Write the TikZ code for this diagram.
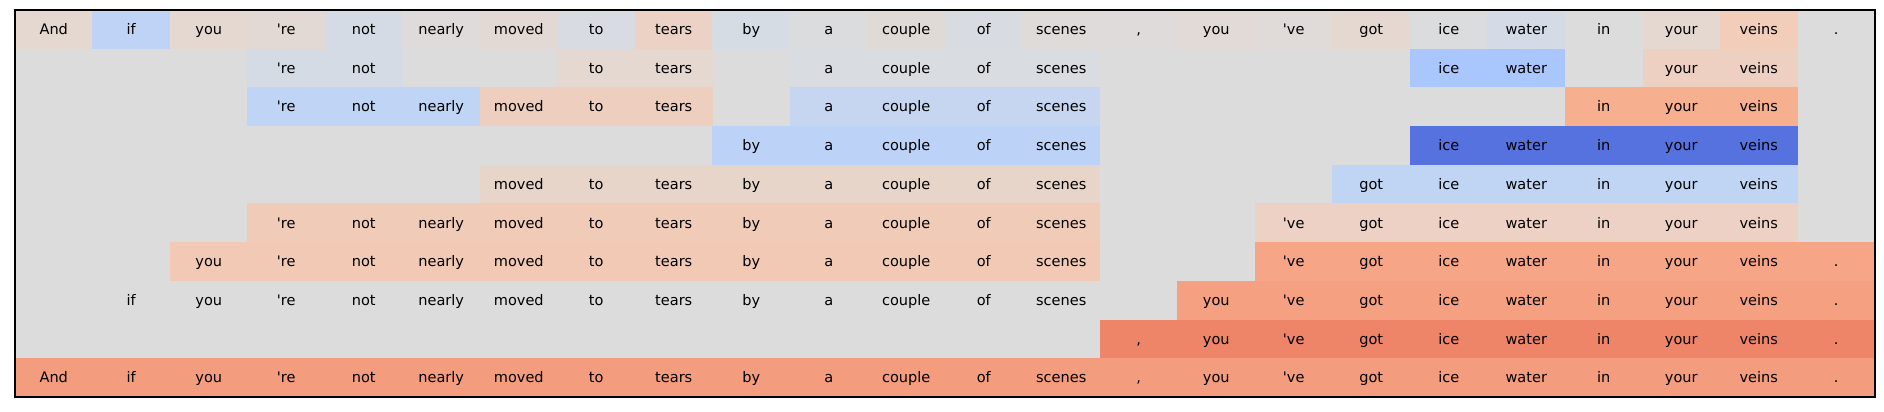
\documentclass[tikz,border=0pt]{standalone}
\usepackage{fontspec}
\setmainfont{DejaVu Sans}[Ligatures=TeXOff]
\usepackage{tikz}
\usetikzlibrary{positioning}
\definecolor{emptycell}{HTML}{DDDCDC}
\tikzset{
	cell/.style={
		rectangle, inner sep=0pt, outer sep=0pt,
		minimum width=0.775in, minimum height=0.387in,
		text height=7.5pt, text depth=0pt,
		font=\fontsize{10.5}{12}\selectfont,
	},
	frame/.style={
		draw=black, line width=0.8pt,
	}
}
% tokens of the sentence, one per column
\foreach \w [count=\i] in {And,if,you,'re,not,nearly,moved,to,tears,by,a,couple,of,scenes,{,},you,'ve,got,ice,water,in,your,veins,.}
	{\expandafter\xdef\csname tok\i\endcsname{\w}}
% one row: first/last column/colour
\newcommand{\heatrow}[2]{%
	\foreach \a/\b/\hex in {#2} {
		\foreach \c in {\a,...,\b} {
			\definecolor{cellfill}{HTML}{\hex}
			\node [cell, fill=cellfill] (cell-#1-\c) at ({15+(\c-0.5)*77.5},{10+(#1-0.5)*38.7}) {\csname tok\c\endcsname};
		}
	}%
}
\begin{document}
\begin{tikzpicture}[x=0.01in, y=-0.01in]
	\useasboundingbox (0,0) rectangle (1884,412);
	\coordinate (nw) at (15,10);
	\coordinate (se) at (1875,397);
	\fill [emptycell] (nw) rectangle (se);
	
	\heatrow{1}{1/1/E5D8D1, 2/2/BFD3F6, 3/3/E5D8D1, 4/4/E2D9D4, 5/5/D5DBE5, 6/6/DEDBDA,
		7/7/E2D9D4, 8/8/D8DCE2, 9/9/ECD2C4, 10/10/D6DCE4, 11/11/DBDCDE, 12/12/E0DAD7,
		13/13/D8DCE2, 14/14/DFDBD9, 15/15/DEDBDA, 16/16/E1DAD6, 17/17/E0DAD8, 18/18/E5D8D0,
		19/19/DBDCDE, 20/20/D4DBE6, 21/21/DCDCDD, 22/22/E5D8D1, 23/23/F1CDBA, 24/24/DCDCDD}
	\heatrow{2}{4/5/D5DBE5, 8/9/E4D8D1, 11/14/D9DCE1, 19/20/AAC7FD, 22/23/EDD0C2}
	\heatrow{3}{4/6/C0D4F5, 7/9/EDCEBF, 11/14/C6D6F0, 21/23/F6AF8F}
	\heatrow{4}{10/14/BCD2F7, 19/23/5572DF}
	\heatrow{5}{7/14/E7D5CA, 18/23/C0D4F3}
	\heatrow{6}{4/14/F0CBB8, 17/23/EDD1C4}
	\heatrow{7}{3/14/F1C9B4, 17/24/F6A687}
	\heatrow{8}{2/14/DDDCDC, 16/24/F4A081}
	\heatrow{9}{15/24/EE8468}
	\heatrow{10}{1/24/F39C7E}
	
	\draw [frame] (nw) rectangle (se);
\end{tikzpicture}
\end{document}
